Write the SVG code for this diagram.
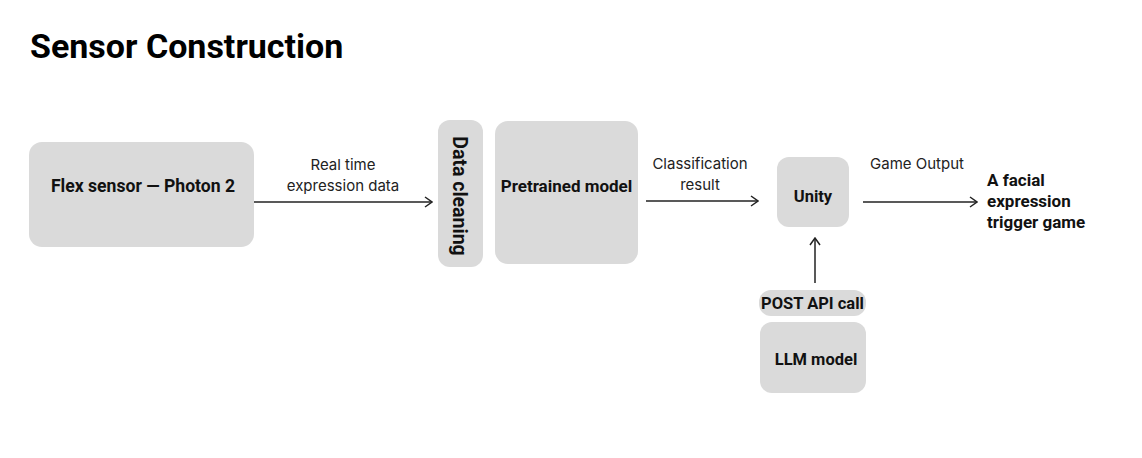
<svg xmlns="http://www.w3.org/2000/svg" width="1142" height="458" viewBox="0 0 1142 458">
<style>
.box{fill:#dadada;}
.nt{font-family:Roboto,"Liberation Sans",sans-serif;font-weight:700;font-size:16.5px;fill:#111;text-anchor:middle;}
.lb{font-family:Inter,"Liberation Sans",sans-serif;font-weight:400;font-size:15px;fill:#222;text-anchor:middle;}
.out{font-family:Roboto,"Liberation Sans",sans-serif;font-weight:700;font-size:17px;fill:#111;}
.title{font-family:Roboto,"Liberation Sans",sans-serif;font-weight:700;font-size:34px;fill:#000;}
.ar{stroke:#222;stroke-width:1.5;fill:none;marker-end:url(#ah);}
</style>
<defs>
<marker id="ah" viewBox="0 0 10 12" refX="9" refY="6" markerWidth="10" markerHeight="12" markerUnits="userSpaceOnUse" orient="auto">
<path d="M2,1 L9,6 L2,11" fill="none" stroke="#222" stroke-width="1.5"/>
</marker>
</defs>
<rect width="1142" height="458" fill="#fff"/>
<text class="title" x="30" y="58">Sensor Construction</text>
<g id="flex">
<rect class="box" x="29" y="142" width="225" height="105" rx="13"/>
<text class="nt" x="143" y="192" style="font-size:17.6px">Flex sensor — Photon 2</text>
</g>
<g id="clean">
<rect class="box" x="438" y="120" width="45" height="147" rx="12"/>
<text class="nt" transform="translate(453,196) rotate(90)" x="0" y="0" style="font-size:19.5px">Data cleaning</text>
</g>
<g id="pretrained">
<rect class="box" x="495" y="121" width="143" height="143" rx="13"/>
<text class="nt" x="566.5" y="192" style="font-size:17px">Pretrained model</text>
</g>
<g id="unity">
<rect class="box" x="777" y="157" width="72" height="70" rx="12"/>
<text class="nt" x="813" y="202">Unity</text>
</g>
<g id="post">
<rect class="box" x="759" y="290" width="107" height="26" rx="12"/>
<text class="nt" x="812.5" y="309">POST API call</text>
</g>
<g id="llm">
<rect class="box" x="760" y="322" width="106" height="71" rx="12"/>
<text class="nt" x="816" y="365">LLM model</text>
</g>
<g id="output">
<text class="out" x="987" y="186">A facial</text>
<text class="out" x="987" y="207">expression</text>
<text class="out" x="987" y="228">trigger game</text>
</g>
<g id="connectors">
<line class="ar" x1="254" y1="202" x2="432" y2="202"/>
<text class="lb" x="343" y="170">Real time</text>
<text class="lb" x="343" y="191">expression data</text>
<line class="ar" x1="646" y1="201" x2="758" y2="201"/>
<text class="lb" x="700" y="169">Classification</text>
<text class="lb" x="700" y="190">result</text>
<line class="ar" x1="863" y1="202" x2="977" y2="202"/>
<text class="lb" x="917" y="169">Game Output</text>
<line class="ar" x1="815" y1="283" x2="815" y2="238"/>
</g>
</svg>
